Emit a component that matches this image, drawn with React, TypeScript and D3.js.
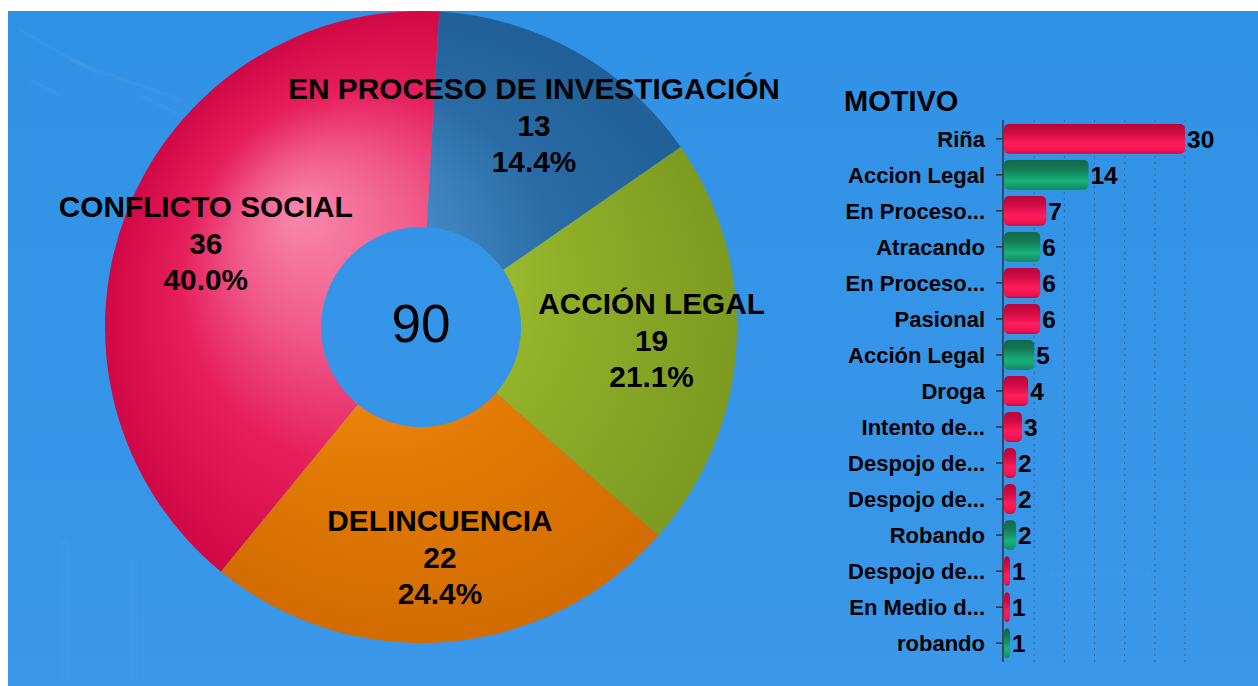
import React from 'react';
import * as d3 from 'd3';

// Pie: causas
const causas = ['EN PROCESO DE INVESTIGACIÓN', 'ACCIÓN LEGAL', 'DELINCUENCIA', 'CONFLICTO SOCIAL'];
const causaValores = [13, 19, 22, 36];
const causaColores = [
  ['#5ea6dc', '#4189c4', '#2a6ca6', '#205f98'],
  ['#b8d84a', '#a6c536', '#90b02a', '#7c9a20'],
  ['#ffa830', '#f38c12', '#e27a04', '#d26c00'],
  ['#f888ab', '#f0588a', '#e61e5c', '#d00846'],
];
const causaStops = [0, 0.3, 0.6, 1];

// Bars: motivo
const motivos = [
  'Riña', 'Accion Legal', 'En Proceso...', 'Atracando', 'En Proceso...', 'Pasional',
  'Acción Legal', 'Droga', 'Intento de...', 'Despojo de...', 'Despojo de...', 'Robando',
  'Despojo de...', 'En Medio d...', 'robando',
];
const motivoValores = [30, 14, 7, 6, 6, 6, 5, 4, 3, 2, 2, 2, 1, 1, 1];
const motivoGrupo = ['r', 'g', 'r', 'g', 'r', 'r', 'g', 'r', 'r', 'r', 'r', 'g', 'r', 'r', 'g'];
const gridTicks = [5, 10, 15, 20, 25, 30];

const W = 1258;
const H = 686;
const FONT = '"Liberation Sans", Arial, sans-serif';

export default function App() {
  const total = d3.sum(causaValores);
  const cx = 421;
  const cy = 327;
  const rOuter = 316;
  const rInner = 100;
  const start = (3.3 * Math.PI) / 180;

  const pie = d3.pie<number>().sort(null).startAngle(start).endAngle(start + Math.PI * 2);
  const arcs = pie(causaValores);
  const arc = d3.arc<d3.PieArcDatum<number>>().innerRadius(rInner).outerRadius(rOuter);
  const labelArc = d3.arc<d3.PieArcDatum<number>>().innerRadius(231).outerRadius(231);

  // bar chart scales
  const x = d3.scaleLinear().domain([0, 30]).range([1004, 1185]);
  const y = d3.scaleBand<number>().domain(d3.range(motivos.length)).range([121, 661]).paddingInner(0.17).paddingOuter(0.08);

  const streaks = [
    [20, 30, 100, 75], [70, 60, 180, 100], [140, 95, 180, 115], [30, 80, 60, 95],
  ];

  return (
    <svg width={W} height={H} style={{ position: 'absolute', left: 0, top: 0, fontFamily: FONT }}>
      <defs>
        <linearGradient id="bg" x1="0" y1="0" x2="0" y2="1">
          <stop offset="0" stopColor="#3092e6" />
          <stop offset="1" stopColor="#3a97e9" />
        </linearGradient>
        {causaColores.map((cols, i) => (
          <radialGradient key={i} id={`pg${i}`} gradientUnits="userSpaceOnUse" cx={0} cy={0} r={rOuter} fx={-126} fy={-117}>
            {cols.map((c, j) => <stop key={j} offset={causaStops[j]} stopColor={c} />)}
          </radialGradient>
        ))}
        <linearGradient id="barR" x1="0" y1="0" x2="0" y2="1">
          <stop offset="0" stopColor="#b8053a" />
          <stop offset="0.3" stopColor="#d00a44" />
          <stop offset="0.65" stopColor="#ff1d5e" />
          <stop offset="0.9" stopColor="#f0144f" />
          <stop offset="1" stopColor="#c8083f" />
        </linearGradient>
        <linearGradient id="barG" x1="0" y1="0" x2="0" y2="1">
          <stop offset="0" stopColor="#10684a" />
          <stop offset="0.3" stopColor="#137a55" />
          <stop offset="0.7" stopColor="#18b37c" />
          <stop offset="1" stopColor="#13865c" />
        </linearGradient>
      </defs>

      <rect x={8} y={11} width={W - 8} height={H - 11} fill="url(#bg)" />
      {/* faint background streaks */}
      {streaks.map((s, i) => (
        <line key={i} x1={s[0]} y1={s[1]} x2={s[2]} y2={s[3]} stroke="#ffffff" strokeOpacity={0.035} strokeWidth={3} strokeLinecap="round" />
      ))}
      <rect x={60} y={540} width={10} height={140} fill="#ffffff" opacity={0.02} />
      <rect x={130} y={560} width={8} height={120} fill="#ffffff" opacity={0.02} />
      <rect x={1050} y={570} width={100} height={6} fill="#ffffff" opacity={0.02} />

      {/* donut */}
      <g transform={`translate(${cx},${cy})`}>
        {arcs.map((a, i) => (
          <path key={i} d={arc(a) || ''} fill={`url(#pg${i})`} />
        ))}
      </g>
      {arcs.map((a, i) => {
        const [lx, ly] = labelArc.centroid(a);
        const px = cx + lx;
        const py = cy + ly;
        return (
          <g key={i} fontWeight="bold" fontSize={29.8} textAnchor="middle" fill="#000">
            <text x={px} y={py - 36.5} dy="0.35em">{causas[i]}</text>
            <text x={px} y={py} dy="0.35em">{causaValores[i]}</text>
            <text x={px} y={py + 36.5} dy="0.35em">{((causaValores[i] / total) * 100).toFixed(1)}%</text>
          </g>
        );
      })}
      <text x={cx} y={cy - 4} dy="0.35em" textAnchor="middle" fontSize={53} fill="#000">{total}</text>

      {/* bar chart */}
      <text x={844} y={111} fontSize={29} fontWeight="bold" fill="#000">MOTIVO</text>
      {gridTicks.map((t) => (
        <line key={t} x1={x(t)} x2={x(t)} y1={120} y2={662} stroke="#2f4f72" strokeOpacity={0.6} strokeDasharray="2,4" />
      ))}
      {motivoValores.map((v, i) => (
        <g key={i}>
          <rect x={x(0)} y={y(i)} width={x(v) - x(0)} height={y.bandwidth()} rx={5} fill={motivoGrupo[i] === 'g' ? 'url(#barG)' : 'url(#barR)'} />
          <text x={x(v) + 2} y={(y(i) || 0) + y.bandwidth() / 2} dy="0.36em" fontSize={24.5} fontWeight="bold" fill="#000">{v}</text>
          <line x1={996} x2={1003} y1={(y(i) || 0) + y.bandwidth() / 2} y2={(y(i) || 0) + y.bandwidth() / 2} stroke="#333" strokeWidth={1.5} />
          <text x={985} y={(y(i) || 0) + y.bandwidth() / 2} dy="0.36em" textAnchor="end" fontSize={22} fontWeight="bold" fill="#000">{motivos[i]}</text>
        </g>
      ))}
      <line x1={1003} x2={1003} y1={120} y2={662} stroke="#333" strokeWidth={1.5} />
    </svg>
  );
}
